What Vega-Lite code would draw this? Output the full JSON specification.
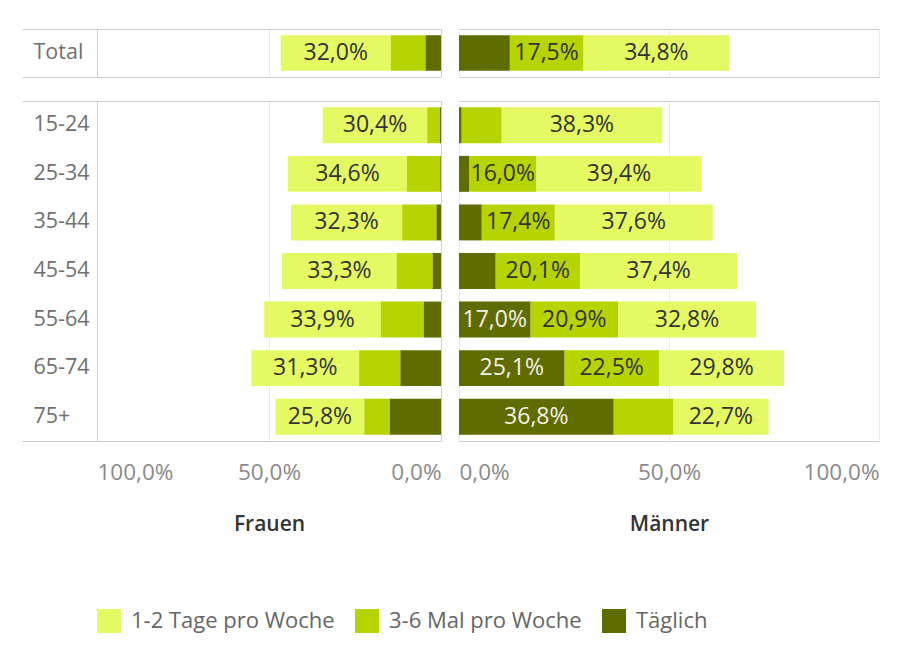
{
  "$schema": "https://vega.github.io/schema/vega-lite/v6.json",
  "background": "white",
  "padding": {"left": 22, "top": 28, "right": 0, "bottom": 0},
  "bounds": "flush",
  "columns": 2,
  "spacing": {"row": 24, "column": 18},
  "config": {
    "locale": {"number": {"decimal": ",", "thousands": ".", "grouping": [3], "currency": ["", " €"]}},
    "font": "Open Sans",
    "view": {"stroke": "#d0d0d0"},
    "axis": {"labelFont": "Open Sans", "titleFont": "Open Sans"}
  },
  "data": {"values": [
    {"sex": "Frauen", "group": "Total", "cat": "1-2 Tage pro Woche", "value": 0.320},
    {"sex": "Frauen", "group": "Total", "cat": "3-6 Mal pro Woche", "value": 0.101},
    {"sex": "Frauen", "group": "Total", "cat": "Täglich", "value": 0.045},
    {"sex": "Frauen", "group": "15-24", "cat": "1-2 Tage pro Woche", "value": 0.304},
    {"sex": "Frauen", "group": "15-24", "cat": "3-6 Mal pro Woche", "value": 0.037},
    {"sex": "Frauen", "group": "15-24", "cat": "Täglich", "value": 0.003},
    {"sex": "Frauen", "group": "25-34", "cat": "1-2 Tage pro Woche", "value": 0.346},
    {"sex": "Frauen", "group": "25-34", "cat": "3-6 Mal pro Woche", "value": 0.097},
    {"sex": "Frauen", "group": "25-34", "cat": "Täglich", "value": 0.002},
    {"sex": "Frauen", "group": "35-44", "cat": "1-2 Tage pro Woche", "value": 0.323},
    {"sex": "Frauen", "group": "35-44", "cat": "3-6 Mal pro Woche", "value": 0.100},
    {"sex": "Frauen", "group": "35-44", "cat": "Täglich", "value": 0.013},
    {"sex": "Frauen", "group": "45-54", "cat": "1-2 Tage pro Woche", "value": 0.333},
    {"sex": "Frauen", "group": "45-54", "cat": "3-6 Mal pro Woche", "value": 0.105},
    {"sex": "Frauen", "group": "45-54", "cat": "Täglich", "value": 0.024},
    {"sex": "Frauen", "group": "55-64", "cat": "1-2 Tage pro Woche", "value": 0.339},
    {"sex": "Frauen", "group": "55-64", "cat": "3-6 Mal pro Woche", "value": 0.125},
    {"sex": "Frauen", "group": "55-64", "cat": "Täglich", "value": 0.050},
    {"sex": "Frauen", "group": "65-74", "cat": "1-2 Tage pro Woche", "value": 0.313},
    {"sex": "Frauen", "group": "65-74", "cat": "3-6 Mal pro Woche", "value": 0.120},
    {"sex": "Frauen", "group": "65-74", "cat": "Täglich", "value": 0.118},
    {"sex": "Frauen", "group": "75+", "cat": "1-2 Tage pro Woche", "value": 0.258},
    {"sex": "Frauen", "group": "75+", "cat": "3-6 Mal pro Woche", "value": 0.074},
    {"sex": "Frauen", "group": "75+", "cat": "Täglich", "value": 0.149},
    {"sex": "Männer", "group": "Total", "cat": "1-2 Tage pro Woche", "value": 0.348},
    {"sex": "Männer", "group": "Total", "cat": "3-6 Mal pro Woche", "value": 0.175},
    {"sex": "Männer", "group": "Total", "cat": "Täglich", "value": 0.121},
    {"sex": "Männer", "group": "15-24", "cat": "1-2 Tage pro Woche", "value": 0.383},
    {"sex": "Männer", "group": "15-24", "cat": "3-6 Mal pro Woche", "value": 0.095},
    {"sex": "Männer", "group": "15-24", "cat": "Täglich", "value": 0.006},
    {"sex": "Männer", "group": "25-34", "cat": "1-2 Tage pro Woche", "value": 0.394},
    {"sex": "Männer", "group": "25-34", "cat": "3-6 Mal pro Woche", "value": 0.160},
    {"sex": "Männer", "group": "25-34", "cat": "Täglich", "value": 0.024},
    {"sex": "Männer", "group": "35-44", "cat": "1-2 Tage pro Woche", "value": 0.376},
    {"sex": "Männer", "group": "35-44", "cat": "3-6 Mal pro Woche", "value": 0.174},
    {"sex": "Männer", "group": "35-44", "cat": "Täglich", "value": 0.054},
    {"sex": "Männer", "group": "45-54", "cat": "1-2 Tage pro Woche", "value": 0.374},
    {"sex": "Männer", "group": "45-54", "cat": "3-6 Mal pro Woche", "value": 0.201},
    {"sex": "Männer", "group": "45-54", "cat": "Täglich", "value": 0.087},
    {"sex": "Männer", "group": "55-64", "cat": "1-2 Tage pro Woche", "value": 0.328},
    {"sex": "Männer", "group": "55-64", "cat": "3-6 Mal pro Woche", "value": 0.209},
    {"sex": "Männer", "group": "55-64", "cat": "Täglich", "value": 0.170},
    {"sex": "Männer", "group": "65-74", "cat": "1-2 Tage pro Woche", "value": 0.298},
    {"sex": "Männer", "group": "65-74", "cat": "3-6 Mal pro Woche", "value": 0.225},
    {"sex": "Männer", "group": "65-74", "cat": "Täglich", "value": 0.251},
    {"sex": "Männer", "group": "75+", "cat": "1-2 Tage pro Woche", "value": 0.227},
    {"sex": "Männer", "group": "75+", "cat": "3-6 Mal pro Woche", "value": 0.142},
    {"sex": "Männer", "group": "75+", "cat": "Täglich", "value": 0.368}
  ]},
  "resolve": {"scale": {"color": "shared"}, "legend": {"color": "shared"}},
  "concat": [
    {
      "width": 419, "height": 48,
      "view": {"stroke": null},
      "transform": [{"filter": "datum.sex == 'Frauen' && datum.group == 'Total'"}],
      "layer": [
        {
          "mark": {"type": "bar"},
          "encoding": {
            "x": {"field": "value", "type": "quantitative", "stack": "zero",
              "scale": {"domain": [0, 1.218], "reverse": true, "nice": false},
              "axis": {"orient": "bottom", "values": [0, 0.5, 1], "labels": false, "ticks": false, "domain": true, "domainColor": "#d0d0d0", "grid": true,
                "gridColor": {"condition": {"test": "datum.value == 1", "value": "#d0d0d0"}, "value": "#ebebeb"}, "title": null}},
            "y": {"field": "group", "type": "nominal", "sort": ["Total"],
              "scale": {"paddingInner": 0.26, "paddingOuter": 0.13},
              "axis": {"orient": "left", "domain": false, "ticks": false, "labelAlign": "left", "labelPadding": -11, "labelFontSize": 21.5, "labelColor": "#707070", "title": null}},
            "color": {"field": "cat", "type": "nominal",
              "scale": {"domain": ["1-2 Tage pro Woche", "3-6 Mal pro Woche", "Täglich"], "range": ["#e5fa62", "#b8d400", "#606b00"]},
              "legend": {"orient": "none", "legendX": 75, "legendY": 580, "direction": "horizontal", "title": null, "symbolType": "square", "symbolSize": 576, "symbolStrokeWidth": 0, "symbolOpacity": 1, "labelFontSize": 22, "labelColor": "#666666", "labelFont": "Open Sans", "labelLimit": 400, "columnPadding": 20, "labelOffset": 10}},
            "order": {"field": "cat", "sort": "descending"}
          }
        },
        {
          "transform": [
            {"stack": "value", "groupby": ["group"], "sort": [{"field": "cat", "order": "descending"}], "as": ["x0", "x1"]},
            {"calculate": "(datum.x0 + datum.x1) / 2", "as": "xm"},
            {"filter": "datum.value >= 0.15"}
          ],
          "mark": {"type": "text", "fontSize": 23, "font": "Open Sans"},
          "encoding": {
            "x": {"field": "xm", "type": "quantitative",
              "axis": {"orient": "top", "labels": false, "ticks": false, "grid": false, "domain": true, "domainColor": "#d0d0d0", "title": null}},
            "y": {"field": "group", "type": "nominal", "sort": ["Total"],
              "axis": {"orient": "right", "labels": false, "ticks": false, "grid": false, "domain": true, "domainColor": "#d0d0d0", "title": null}},
            "text": {"field": "value", "type": "quantitative", "format": ".1%"},
            "color": {"condition": {"test": "datum.cat == 'Täglich'", "value": "#f2f2e6"}, "value": "#333333"}
          }
        }
      ],
      "resolve": {"axis": {"x": "independent", "y": "independent"}}
    },
    {
      "width": 420, "height": 48,
      "transform": [{"filter": "datum.sex == 'Männer' && datum.group == 'Total'"}],
      "layer": [
        {
          "mark": {"type": "bar"},
          "encoding": {
            "x": {"field": "value", "type": "quantitative", "stack": "zero",
              "scale": {"domain": [0, 1], "nice": false},
              "axis": {"values": [0, 0.5, 1], "labels": false, "ticks": false, "domain": false, "grid": true, "gridColor": "#ebebeb", "title": null}},
            "y": {"field": "group", "type": "nominal", "sort": ["Total"],
              "scale": {"paddingInner": 0.26, "paddingOuter": 0.13}, "axis": null},
            "color": {"field": "cat", "type": "nominal",
              "scale": {"domain": ["1-2 Tage pro Woche", "3-6 Mal pro Woche", "Täglich"], "range": ["#e5fa62", "#b8d400", "#606b00"]},
              "legend": {"orient": "none", "legendX": 75, "legendY": 580, "direction": "horizontal", "title": null, "symbolType": "square", "symbolSize": 576, "symbolStrokeWidth": 0, "symbolOpacity": 1, "labelFontSize": 22, "labelColor": "#666666", "labelFont": "Open Sans", "labelLimit": 400, "columnPadding": 20, "labelOffset": 10}},
            "order": {"field": "cat", "sort": "descending"}
          }
        },
        {
          "transform": [
            {"stack": "value", "groupby": ["group"], "sort": [{"field": "cat", "order": "descending"}], "as": ["x0", "x1"]},
            {"calculate": "(datum.x0 + datum.x1) / 2", "as": "xm"},
            {"filter": "datum.value >= 0.15"}
          ],
          "mark": {"type": "text", "fontSize": 23, "font": "Open Sans"},
          "encoding": {
            "x": {"field": "xm", "type": "quantitative"},
            "y": {"field": "group", "type": "nominal", "sort": ["Total"]},
            "text": {"field": "value", "type": "quantitative", "format": ".1%"},
            "color": {"condition": {"test": "datum.cat == 'Täglich'", "value": "#f2f2e6"}, "value": "#333333"}
          }
        }
      ]
    },
    {
      "width": 419, "height": 340,
      "view": {"stroke": null},
      "transform": [{"filter": "datum.sex == 'Frauen' && datum.group != 'Total'"}],
      "layer": [
        {
          "mark": {"type": "bar"},
          "encoding": {
            "x": {"field": "value", "type": "quantitative", "stack": "zero",
              "scale": {"domain": [0, 1.218], "reverse": true, "nice": false},
              "axis": {"orient": "bottom", "values": [0, 0.5, 1], "format": ".1%", "ticks": false, "domain": true, "domainColor": "#d0d0d0", "grid": true,
                "gridColor": {"condition": {"test": "datum.value == 1", "value": "#d0d0d0"}, "value": "#ebebeb"},
                "labelAlign": {"condition": [{"test": "datum.value == 1", "value": "left"}, {"test": "datum.value == 0", "value": "right"}], "value": "center"},
                "labelFlush": false,
                "labelFontSize": 22.5, "labelColor": "#8a8a8a", "labelPadding": 20,
                "title": "Frauen", "titleFontSize": 21, "titleFontWeight": 600, "titleColor": "#333333", "titlePadding": 30,
                "titleX": 247}},
            "y": {"field": "group", "type": "nominal", "sort": ["15-24", "25-34", "35-44", "45-54", "55-64", "65-74", "75+"],
              "scale": {"paddingInner": 0.26, "paddingOuter": 0.13},
              "axis": {"orient": "left", "domain": false, "ticks": false, "labelAlign": "left", "labelPadding": -11, "labelFontSize": 21.5, "labelColor": "#707070", "title": null}},
            "color": {"field": "cat", "type": "nominal",
              "scale": {"domain": ["1-2 Tage pro Woche", "3-6 Mal pro Woche", "Täglich"], "range": ["#e5fa62", "#b8d400", "#606b00"]},
              "legend": {"orient": "none", "legendX": 75, "legendY": 580, "direction": "horizontal", "title": null, "symbolType": "square", "symbolSize": 576, "symbolStrokeWidth": 0, "symbolOpacity": 1, "labelFontSize": 22, "labelColor": "#666666", "labelFont": "Open Sans", "labelLimit": 400, "columnPadding": 20, "labelOffset": 10}},
            "order": {"field": "cat", "sort": "descending"}
          }
        },
        {
          "transform": [
            {"stack": "value", "groupby": ["group"], "sort": [{"field": "cat", "order": "descending"}], "as": ["x0", "x1"]},
            {"calculate": "(datum.x0 + datum.x1) / 2", "as": "xm"},
            {"filter": "datum.value >= 0.15"}
          ],
          "mark": {"type": "text", "fontSize": 23, "font": "Open Sans"},
          "encoding": {
            "x": {"field": "xm", "type": "quantitative",
              "axis": {"orient": "top", "labels": false, "ticks": false, "grid": false, "domain": true, "domainColor": "#d0d0d0", "title": null}},
            "y": {"field": "group", "type": "nominal", "sort": ["15-24", "25-34", "35-44", "45-54", "55-64", "65-74", "75+"],
              "axis": {"orient": "right", "labels": false, "ticks": false, "grid": false, "domain": true, "domainColor": "#d0d0d0", "title": null}},
            "text": {"field": "value", "type": "quantitative", "format": ".1%"},
            "color": {"condition": {"test": "datum.cat == 'Täglich'", "value": "#f2f2e6"}, "value": "#333333"}
          }
        }
      ],
      "resolve": {"axis": {"x": "independent", "y": "independent"}}
    },
    {
      "width": 420, "height": 340,
      "transform": [{"filter": "datum.sex == 'Männer' && datum.group != 'Total'"}],
      "layer": [
        {
          "mark": {"type": "bar"},
          "encoding": {
            "x": {"field": "value", "type": "quantitative", "stack": "zero",
              "scale": {"domain": [0, 1], "nice": false},
              "axis": {"values": [0, 0.5, 1], "format": ".1%", "ticks": false, "domain": false, "grid": true, "gridColor": "#ebebeb", "labelFlush": true,
                "labelFontSize": 22.5, "labelColor": "#8a8a8a", "labelPadding": 20,
                "title": "Männer", "titleFontSize": 21, "titleFontWeight": 600, "titleColor": "#333333", "titlePadding": 30}},
            "y": {"field": "group", "type": "nominal", "sort": ["15-24", "25-34", "35-44", "45-54", "55-64", "65-74", "75+"],
              "scale": {"paddingInner": 0.26, "paddingOuter": 0.13}, "axis": null},
            "color": {"field": "cat", "type": "nominal",
              "scale": {"domain": ["1-2 Tage pro Woche", "3-6 Mal pro Woche", "Täglich"], "range": ["#e5fa62", "#b8d400", "#606b00"]},
              "legend": {"orient": "none", "legendX": 75, "legendY": 580, "direction": "horizontal", "title": null, "symbolType": "square", "symbolSize": 576, "symbolStrokeWidth": 0, "symbolOpacity": 1, "labelFontSize": 22, "labelColor": "#666666", "labelFont": "Open Sans", "labelLimit": 400, "columnPadding": 20, "labelOffset": 10}},
            "order": {"field": "cat", "sort": "descending"}
          }
        },
        {
          "transform": [
            {"stack": "value", "groupby": ["group"], "sort": [{"field": "cat", "order": "descending"}], "as": ["x0", "x1"]},
            {"calculate": "(datum.x0 + datum.x1) / 2", "as": "xm"},
            {"filter": "datum.value >= 0.15"}
          ],
          "mark": {"type": "text", "fontSize": 23, "font": "Open Sans"},
          "encoding": {
            "x": {"field": "xm", "type": "quantitative"},
            "y": {"field": "group", "type": "nominal", "sort": ["15-24", "25-34", "35-44", "45-54", "55-64", "65-74", "75+"]},
            "text": {"field": "value", "type": "quantitative", "format": ".1%"},
            "color": {"condition": {"test": "datum.cat == 'Täglich'", "value": "#f2f2e6"}, "value": "#333333"}
          }
        }
      ]
    }
  ]
}
